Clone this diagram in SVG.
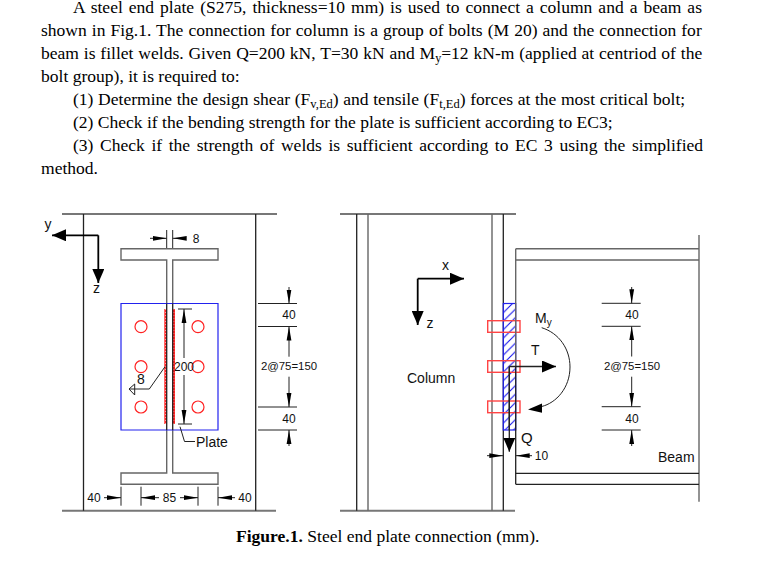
<svg xmlns="http://www.w3.org/2000/svg" width="767" height="563" viewBox="0 0 767 563">
<style>
.b{font-family:"Liberation Serif","Times New Roman",serif;font-size:17.55px;fill:#000}
.s{font-family:"Liberation Sans",Arial,sans-serif;font-size:12px;fill:#111}
.n{font-size:11.4px}
.m{text-anchor:middle}
.l{font-size:14px}
.x{font-size:14px}
.q{font-size:15px}
.k{fill:none;stroke:#222;stroke-width:1.3}
.g{fill:none;stroke:#666;stroke-width:1.4}
.t{fill:none;stroke:#777;stroke-width:2}
.d{fill:none;stroke:#222;stroke-width:1}
.w{fill:none;stroke:#222;stroke-width:1.3}
.a{fill:none;stroke:#000;stroke-width:1.8}
.r{fill:none;stroke:#f22;stroke-width:1.2}
.u{fill:none;stroke:#f44;stroke-width:1.4}
.p{fill:none;stroke:#22e;stroke-width:1.2}
.h{fill:#000;stroke:none}
</style>
<defs>
<marker id="sm" markerUnits="userSpaceOnUse" markerWidth="14" markerHeight="6" refX="14" refY="3" orient="auto"><path class="h" d="M0 0.6L14 3L0 5.4Z"/></marker>
<marker id="big" markerUnits="userSpaceOnUse" markerWidth="14" markerHeight="12" refX="14" refY="6" orient="auto"><path class="h" d="M0 0L14 6L0 12Z"/></marker>
<pattern id="hatch" patternUnits="userSpaceOnUse" width="8.500" height="8.500"><path d="M-1 9.500L9.500 -1M-1 1L1 -1M7.500 9.500L9.500 7.500" stroke="#11e" stroke-width="1.100" fill="none"/></pattern>
</defs>

<g id="text">
<text class="b" x="73" y="13" word-spacing="1.6">A steel end plate (S275, thickness=10 mm) is used to connect a column and a beam as</text>
<text class="b" x="41" y="36" word-spacing="0.65">shown in Fig.1. The connection for column is a group of bolts (M 20) and the connection for</text>
<text class="b" x="41" y="59" word-spacing="0.47">beam is fillet welds. Given Q=200 kN, T=30 kN and M<tspan font-size="12" dy="3">y</tspan><tspan dy="-3">=12 kN-m (applied at centriod of the</tspan></text>
<text class="b" x="41" y="82">bolt group), it is required to:</text>
<text class="b" x="73" y="105" word-spacing="0.25">(1) Determine the design shear (F<tspan font-size="12.500" dy="3">v,Ed</tspan><tspan dy="-3">) and tensile (F</tspan><tspan font-size="12.500" dy="3">t,Ed</tspan><tspan dy="-3">) forces at the most critical bolt;</tspan></text>
<text class="b" x="73" y="128">(2) Check if the bending strength for the plate is sufficient according to EC3;</text>
<text class="b" x="73" y="151" word-spacing="2.2">(3) Check if the strength of welds is sufficient according to EC 3 using the simplified</text>
<text class="b" x="41" y="174">method.</text>
<text class="b" x="236" y="542"><tspan font-weight="bold">Figure.1.</tspan> Steel end plate connection (mm).</text>
</g>

<g id="front-view">
<path class="t" d="M62 214H277M62 510.7H276"/>
<path class="k" d="M83.5 214V510.7M255.7 214V510.7"/>
<path class="g" d="M166.7 303.5V260H121V248.7H218V260H172.7V303.5"/>
<path class="g" d="M166.7 430V473H121V484.3H218V473H172.7V430"/>
<path class="p" d="M121 303.5H218V430H121Z"/>
<path d="M165.5 309V424M173.8 309V424" fill="none" stroke="#f22" stroke-width="2.4"/>
<path d="M165.5 309V424M173.8 309V424" fill="none" stroke="#fbb" stroke-width="0.8" stroke-dasharray="1 2"/>
<path class="k" d="M166.7 303.5V430M172.7 303.5V430"/>
<circle class="r" cx="141" cy="326.7" r="6"/><circle class="r" cx="198" cy="326.7" r="6"/>
<circle class="r" cx="141" cy="366.7" r="6"/><circle class="r" cx="198" cy="366.7" r="6"/>
<circle class="r" cx="141" cy="407" r="6"/><circle class="r" cx="198" cy="407" r="6"/>
<path class="d" d="M165 366.7L149.3 389H129L134.7 384V395L129 389"/>
<text class="s l m" x="141" y="384">8</text>
<path class="d" d="M180 426.7L184.5 441.5H195"/>
<text class="s l" x="196" y="447">Plate</text>
<path class="d" d="M178 309H192M178 424H192"/>
<path class="d" marker-end="url(#sm)" d="M184 358V309"/>
<path class="d" marker-end="url(#sm)" d="M184 375V424"/>
<text class="s m" x="184" y="371">200</text>
</g>

<g id="front-dims">
<path class="d" d="M166.7 230V248M172.7 230V248"/>
<path class="d" marker-end="url(#sm)" d="M150 238.3H166.7"/>
<path class="d" marker-end="url(#sm)" d="M180 238.3H172.7"/>
<text class="s m" x="196" y="243">8</text>
<path class="d" d="M121 486.7V505.7M141 486.7V505.7M198 486.7V505.7M218 486.7V505.7"/>
<path class="d" marker-end="url(#sm)" d="M104 497.7H121"/>
<path class="d" marker-end="url(#sm)" d="M159 497.7H141"/>
<path class="d" marker-end="url(#sm)" d="M180 497.7H198"/>
<path class="d" marker-end="url(#sm)" d="M235 497.7H218"/>
<text class="s m" x="94" y="502">40</text>
<text class="s m" x="169.500" y="502">85</text>
<text class="s m" x="245" y="502">40</text>
<path class="d" d="M258 303.5H297M258 326.5H297M258 407H297M258 430H297"/>
<path class="d" marker-end="url(#sm)" d="M289 287V303.5"/>
<path class="d" marker-end="url(#sm)" d="M289 356.700V326.500"/>
<path class="d" marker-end="url(#sm)" d="M289 376.700V407"/>
<path class="d" marker-end="url(#sm)" d="M289 446V430"/>
<text class="s m" x="289" y="319">40</text>
<text class="s n m" x="289" y="370">2@75=150</text>
<text class="s m" x="289" y="423">40</text>
</g>

<g id="axes-front">
<path class="a" marker-end="url(#big)" d="M98.300 235.300H52"/>
<path class="a" marker-end="url(#big)" d="M98.300 235.300V283"/>
<text class="s x" x="44.500" y="229">y</text>
<text class="s x" x="93" y="293">z</text>
</g>

<g id="side-view">
<path class="t" d="M340 214H516M340 510.700H515"/>
<path class="k" d="M356.700 214V510.700M503.300 214V510.700"/>
<path class="g" d="M368 214V510.700M492 214V510.700"/>
<rect x="503.300" y="303.500" width="12.400" height="126.500" fill="url(#hatch)" stroke="#22e" stroke-width="1.200"/>
<rect class="u" x="487.700" y="320.700" width="32.300" height="11.600"/>
<rect class="u" x="487.700" y="360.700" width="32.300" height="11.600"/>
<rect class="u" x="487.700" y="401" width="32.300" height="11.700"/>
<path class="k" d="M509.300 366.500V430M515.700 366.500V484.300"/>
<path class="g" d="M515.700 248.700V366.500M515.700 248.700H699M515.700 260H699M699 235V501.700"/>
<path class="k" d="M515.700 473.300H699M515.700 484.300H699"/>
<text class="s l" x="407" y="383">Column</text>
<text class="s l" x="658" y="462">Beam</text>
</g>

<g id="loads">
<path class="w" marker-end="url(#big)" d="M509.300 366.500H556"/>
<path class="w" marker-end="url(#big)" d="M509.300 366.500V451.700"/>
<path class="d" d="M541.700 327.700C559 333 570 349 570 367C570 388 556 403 541.700 406.500"/>
<path class="h" d="M528 409.500L542 403.500L542 412.700Z"/>
<text class="s l" x="535" y="323">M<tspan font-size="10" dy="3">y</tspan></text>
<text class="s l" x="531" y="355">T</text>
<text class="s q" x="521" y="443">Q</text>
<path class="d" marker-end="url(#sm)" d="M487 455.700H503.300"/>
<path class="d" marker-end="url(#sm)" d="M532 455.700H515.700"/>
<text class="s m" x="541.500" y="460">10</text>
</g>

<g id="side-dims">
<path class="d" d="M601.700 303.300H640.700M601.700 326.300H640.700M601.700 406.700H640.700M601.700 430H640.700"/>
<path class="d" marker-end="url(#sm)" d="M631.700 287V303.300"/>
<path class="d" marker-end="url(#sm)" d="M631.700 356.500V326.300"/>
<path class="d" marker-end="url(#sm)" d="M631.700 376.700V406.700"/>
<path class="d" marker-end="url(#sm)" d="M631.700 446V430"/>
<text class="s m" x="632" y="319">40</text>
<text class="s n m" x="632" y="370">2@75=150</text>
<text class="s m" x="632" y="423">40</text>
</g>

<g id="axes-side">
<path class="a" marker-end="url(#big)" d="M417.700 278.700H464"/>
<path class="a" marker-end="url(#big)" d="M417.700 278.700V325"/>
<text class="s x" x="442" y="270">x</text>
<text class="s x" x="426.500" y="328">z</text>
</g>
</svg>
